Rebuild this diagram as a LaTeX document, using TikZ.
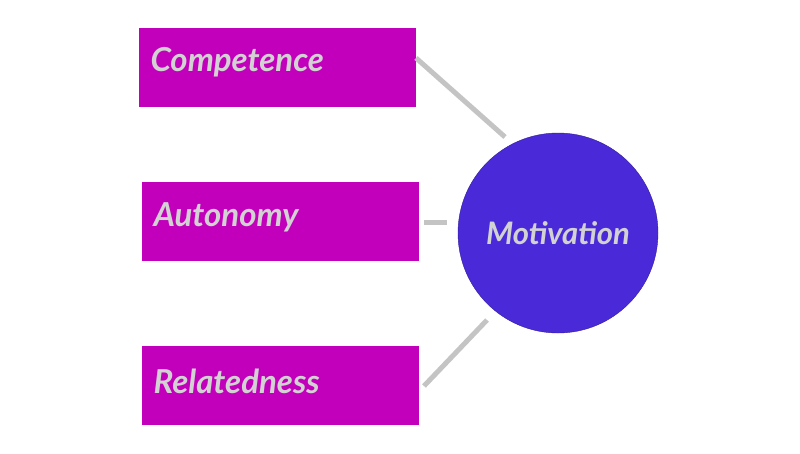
\documentclass[tikz,border=0pt]{standalone}
\usepackage{fontspec}
\setmainfont{Lato}
\definecolor{boxmag}{HTML}{C200BC}
\definecolor{circblue}{HTML}{4A2AD8}
\definecolor{txtgray}{HTML}{D2D2D2}
\definecolor{linegray}{HTML}{C4C4C4}
\tikzset{
  factor/.style = {rectangle, fill=boxmag, minimum width=277pt, minimum height=79pt,
    text=txtgray, font=\fontsize{33}{36}\selectfont\bfseries\itshape, inner sep=0pt},
  hub/.style = {circle, draw=circblue!70!black, fill=circblue, minimum size=200pt,
    text=txtgray, font=\fontsize{31}{34}\selectfont\bfseries\itshape, inner sep=0pt},
  link/.style = {draw=linegray, line width=5pt}
}
\begin{document}
\begin{tikzpicture}[x=1pt, y=-1pt]
	\useasboundingbox (0,0) rectangle (800,453);
	% Place nodes
	\node [factor] (comp) at (277.5,67) {};
	\node [factor] (auto) at (280,221.5) {};
	\node [factor] (rel) at (280,385.5) {};
	\node [anchor=west, text=txtgray, font=\fontsize{33}{36}\selectfont\bfseries\itshape] (comptxt) at (147,62) {Competence};
	\node [anchor=west, text=txtgray, font=\fontsize{33}{36}\selectfont\bfseries\itshape] (autotxt) at (150,217) {Autonomy};
	\node [anchor=west, text=txtgray, font=\fontsize{33}{36}\selectfont\bfseries\itshape] (reltxt) at (150,381) {Relatedness};
	\node [hub] (mot) at (558,233) {Motivation};
	\coordinate (c1) at (416,58);
	\coordinate (c2) at (424,222);
	\coordinate (c3) at (424,386);
	% Draw edges
	\path [link] (c1) -- (505,137);
	\path [link] (c2) -- (447,222);
	\path [link] (c3) -- (487,320);
\end{tikzpicture}
\end{document}
